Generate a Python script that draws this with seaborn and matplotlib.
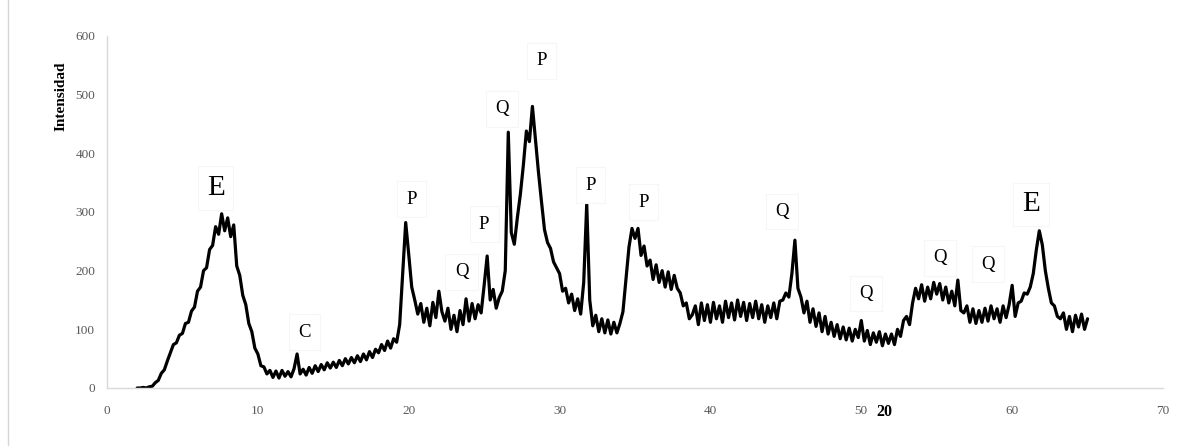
import numpy as np
import pandas as pd
import matplotlib
matplotlib.use("Agg")
import matplotlib.pyplot as plt
from matplotlib.lines import Line2D
import seaborn as sns

# ---- data (2-theta from 2.0 to 65.0, step 0.2) ----
two_theta_start = 2.0
two_theta_end = 65.0
intensity = [
    0, 0, 1, 0, 2,            # 2
    3, 9, 13, 25, 31,         # 3
    46, 60, 74, 77, 90,       # 4
    93, 110, 112, 131, 138,   # 5
    165, 172, 200, 205, 236,  # 6
    243, 275, 262, 297, 268,  # 7
    290, 258, 278, 208, 192,  # 8
    158, 142, 110, 96, 68,    # 9
    58, 38, 36, 24, 30,       # 10
    18, 29, 17, 30, 20,       # 11
    28, 19, 33, 58, 24,       # 12
    32, 22, 35, 25, 38,       # 13
    28, 40, 31, 43, 34,       # 14
    44, 35, 47, 38, 50,       # 15
    41, 52, 43, 55, 45,       # 16
    58, 48, 62, 52, 66,       # 17
    60, 74, 64, 80, 68,       # 18
    84, 78, 108, 195, 282,    # 19
    228, 172, 150, 126, 144,  # 20
    112, 136, 106, 146, 120,  # 21
    165, 130, 114, 136, 100,  # 22
    124, 96, 132, 108, 152,   # 23
    114, 144, 118, 142, 128,  # 24
    175, 225, 150, 168, 136,  # 25
    154, 165, 200, 436, 265,  # 26
    245, 290, 330, 380, 438,  # 27
    420, 480, 425, 368, 318,  # 28
    270, 248, 238, 215, 205,  # 29
    195, 165, 170, 145, 160,  # 30
    132, 152, 126, 180, 314,  # 31
    150, 106, 124, 96, 118,   # 32
    94, 116, 92, 112, 94,     # 33
    110, 130, 185, 240, 272,  # 34
    255, 272, 226, 242, 208,  # 35
    218, 185, 210, 180, 200,  # 36
    172, 198, 168, 192, 170,  # 37
    162, 140, 145, 118, 125,  # 38
    140, 108, 145, 115, 142,  # 39
    112, 146, 118, 140, 112,  # 40
    148, 120, 145, 116, 150,  # 41
    122, 146, 115, 144, 120,  # 42
    148, 118, 142, 112, 140,  # 43
    120, 145, 118, 148, 150,  # 44
    162, 155, 195, 252, 170,  # 45
    155, 128, 148, 112, 135,  # 46
    105, 128, 96, 122, 92,    # 47
    112, 88, 108, 84, 104,    # 48
    82, 102, 80, 100, 86,     # 49
    115, 80, 98, 74, 94,      # 50
    78, 96, 72, 92, 76,       # 51
    92, 74, 100, 88, 115,     # 52
    122, 108, 145, 170, 152,  # 53
    176, 148, 172, 152, 180,  # 54
    160, 178, 150, 172, 145,  # 55
    165, 140, 184, 132, 128,  # 56
    140, 112, 135, 110, 132,  # 57
    112, 136, 114, 140, 118,  # 58
    135, 112, 140, 120, 142,  # 59
    175, 122, 145, 148, 162,  # 60
    160, 172, 195, 235, 268,  # 61
    244, 200, 170, 145, 140,  # 62
    122, 118, 128, 100, 122,  # 63
    96, 124, 104, 126, 100,   # 64
    118,                      # 65
]
two_theta = np.round(np.linspace(two_theta_start, two_theta_end, len(intensity)), 2)

# peak labels
peak_letters = ["E", "C", "P", "Q", "P", "Q", "P", "P", "P", "Q", "Q", "Q", "Q", "E"]
peak_x = [7.2, 13.1, 20.2, 23.5, 25.0, 26.2, 28.8, 32.05, 35.55, 44.75, 50.3, 55.2, 58.4, 61.25]
peak_y = [341, 95, 322, 198, 279, 476, 558, 346, 317, 301, 161, 222, 211, 313]
peak_big = [True, False, False, False, False, False, False, False, False, False, False, False, False, True]

x_ticks = [0, 10, 20, 30, 40, 50, 60, 70]
y_ticks = [0, 100, 200, 300, 400, 500, 600]

df = pd.DataFrame({"two_theta": two_theta, "intensity": intensity})

# ---- styling ----
sns.set_style("white")
plt.rcParams["font.family"] = ["Liberation Serif", "DejaVu Serif"]

fig = plt.figure(figsize=(11.8, 4.46), dpi=100)
ax = fig.add_axes([107 / 1180, 1 - 388 / 446, (1163 - 107) / 1180, (388 - 36) / 446])

sns.lineplot(data=df, x="two_theta", y="intensity", color="black", linewidth=2.3, ax=ax)

ax.set_xlim(0, 70)
ax.set_ylim(0, 600)
ax.set_xticks(x_ticks)
ax.set_yticks(y_ticks)
ax.tick_params(axis="x", length=0, pad=12, labelsize=9.5, labelcolor="#595959")
ax.tick_params(axis="y", length=0, pad=8.5, labelsize=9.5, labelcolor="#595959")

for side in ["top", "right"]:
    ax.spines[side].set_visible(False)
for side in ["left", "bottom"]:
    ax.spines[side].set_color("#d9d9d9")
    ax.spines[side].set_linewidth(1.0)

ax.set_xlabel("20", fontsize=11.5, fontweight="bold", color="black")
ax.xaxis.set_label_coords(0.736, -0.045)
ax.set_ylabel("Intensidad", fontsize=11, fontweight="bold", color="black")
ax.yaxis.set_label_coords(-0.037, 0.828)

for letter, px, py, big in zip(peak_letters, peak_x, peak_y, peak_big):
    ax.text(px, py, letter, ha="center", va="center",
            fontsize=21 if big else 13.5, color="black",
            bbox=dict(boxstyle="square,pad=%s" % (0.3 if big else 0.5),
                      fc="white", ec="#f6f6f6", lw=0.8),
            zorder=3)

fig.add_artist(Line2D([7.5 / 1180, 7.5 / 1180], [0, 1], transform=fig.transFigure,
                      color="#d6d6d6", lw=1.0))

fig.savefig("out.png", dpi=100)
